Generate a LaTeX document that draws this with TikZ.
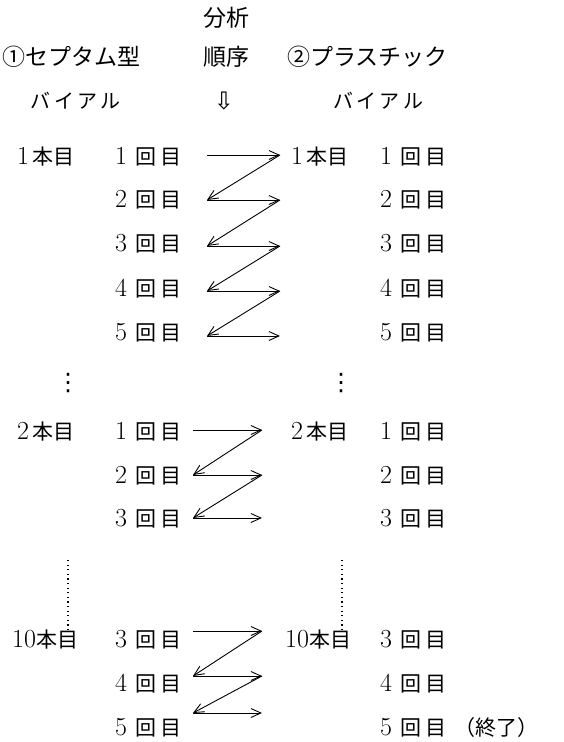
\documentclass[tikz,border=0pt]{standalone}
\usepackage{fontspec}
\newfontfamily\jp{Noto Sans CJK JP}
\newfontfamily\dv{DejaVu Sans}
\usetikzlibrary{arrows.meta}
\newcommand\J[1]{{\jp #1}}
\newcommand\D[1]{{\fontsize{26}{26}\selectfont #1}}
\newcommand\KM{\J{回}\hspace{4pt}\J{目}}
\begin{document}
\begin{tikzpicture}[x=1pt,y=-1pt,
  every node/.style={inner sep=0pt},
  hd/.style={font=\fontsize{23}{23}\selectfont\jp},
  t/.style={anchor=west,font=\fontsize{21}{21}\selectfont},
  arr/.style={-{Straight Barb[length=10pt,width=9pt]},line width=0.9pt},
  vd/.style={line width=1.4pt,dash pattern=on 1.2pt off 3.4pt}]
\useasboundingbox[fill=white] (0,0) rectangle (563,742);
% header
\node[hd] (h1) at (226,18) {分析};
\node[hd,anchor=west] (h2) at (2,57) {①セプタム型};
\node[hd] (h3) at (226,57) {順序};
\node[hd,anchor=west] (h4) at (287,57) {②プラスチック};
\node[hd,font=\fontsize{20}{20}\selectfont\jp] (h5) at (76,101) {バ\,イ\,ア\,ル};
\node[font=\fontsize{24}{24}\selectfont\dv] (h6) at (224,101) {⇩};
\node[hd,font=\fontsize{20}{20}\selectfont\jp] (h7) at (378,101) {バ\,イ\,ア\,ル};
% group 1
\node[t] (a1) at (17,157) {\D{1}\,\J{本目}};
\node[t] (b1) at (115,157) {\D{1}\hspace{8pt}\KM};
\node[t] (b2) at (115,200) {\D{2}\hspace{8pt}\KM};
\node[t] (b3) at (115,244) {\D{3}\hspace{8pt}\KM};
\node[t] (b4) at (115,289) {\D{4}\hspace{8pt}\KM};
\node[t] (b5) at (115,333) {\D{5}\hspace{8pt}\KM};
\node[t] (c1) at (291,157) {\D{1}\,\J{本目}};
\node[t] (d1) at (380,157) {\D{1}\hspace{8pt}\KM};
\node[t] (d2) at (380,200) {\D{2}\hspace{8pt}\KM};
\node[t] (d3) at (380,244) {\D{3}\hspace{8pt}\KM};
\node[t] (d4) at (380,289) {\D{4}\hspace{8pt}\KM};
\node[t] (d5) at (380,333) {\D{5}\hspace{8pt}\KM};
\foreach \i/\y in {1/155,2/200,3/246,4/291,5/336}{
  \coordinate (L\i) at (207,\y);
  \coordinate (R\i) at (280,\y);
  \draw[arr] (L\i) -- (R\i);
}
\foreach \i/\j in {1/2,2/3,3/4,4/5}{ \draw[arr] (R\i) -- (L\j); }
% vertical ellipsis
\node[font=\fontsize{24}{24}\selectfont\dv] (e1) at (68,383) {⋮};
\node[font=\fontsize{24}{24}\selectfont\dv] (e2) at (341,383) {⋮};
% group 2
\node[t] (a2) at (17,432) {\D{2}\,\J{本目}};
\node[t] (f1) at (115,432) {\D{1}\hspace{8pt}\KM};
\node[t] (f2) at (115,476) {\D{2}\hspace{8pt}\KM};
\node[t] (f3) at (115,519) {\D{3}\hspace{8pt}\KM};
\node[t] (c2) at (291,432) {\D{2}\,\J{本目}};
\node[t] (g1) at (380,432) {\D{1}\hspace{8pt}\KM};
\node[t] (g2) at (380,476) {\D{2}\hspace{8pt}\KM};
\node[t] (g3) at (380,519) {\D{3}\hspace{8pt}\KM};
\foreach \i/\y in {1/430,2/475,3/518}{
  \coordinate (P\i) at (193,\y);
  \coordinate (Q\i) at (262,\y);
  \draw[arr] (P\i) -- (Q\i);
}
\foreach \i/\j in {1/2,2/3}{ \draw[arr] (Q\i) -- (P\j); }
% group 3
\node[t] (a3) at (12,640) {\D{10}\J{本目}};
\node[t] (k1) at (115,640) {\D{3}\hspace{8pt}\KM};
\node[t] (k2) at (115,684) {\D{4}\hspace{8pt}\KM};
\node[t] (k3) at (115,728) {\D{5}\hspace{8pt}\KM};
\node[t] (c3) at (285,640) {\D{10}\J{本目}};
\node[t] (m1) at (380,640) {\D{3}\hspace{8pt}\KM};
\node[t] (m2) at (380,684) {\D{4}\hspace{8pt}\KM};
\node[t] (m3) at (380,728) {\D{5}\hspace{8pt}\KM\hspace{8pt}\J{（終了）}};
\foreach \i/\y in {1/631,2/676,3/713}{
  \coordinate (U\i) at (193,\y);
  \coordinate (V\i) at (262,\y);
  \draw[arr] (U\i) -- (V\i);
}
\foreach \i/\j in {1/2,2/3}{ \draw[arr] (V\i) -- (U\j); }
% dotted verticals
\coordinate (s1) at (68,560);
\coordinate (s2) at (342,560);
\draw[vd] (s1) -- (a3.north -| s1);
\draw[vd] (s2) -- (c3.north -| s2);
\end{tikzpicture}
\end{document}
